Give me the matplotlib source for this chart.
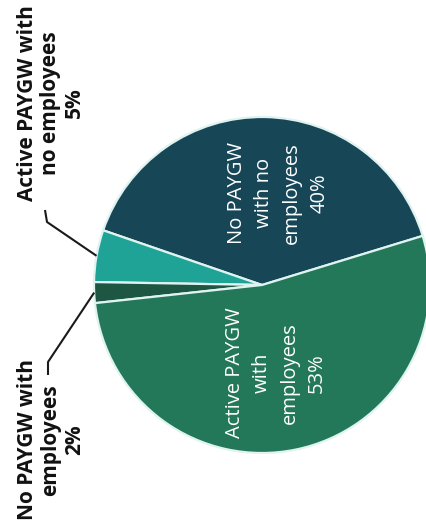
import numpy as np
import matplotlib
matplotlib.use("Agg")
import matplotlib.pyplot as plt

plt.rcParams['font.family'] = ['Open Sans', 'DejaVu Sans']

# PAYGW status of businesses
segments = ["No PAYGW\nwith no\nemployees", "Active PAYGW with\nno employees",
            "No PAYGW with\nemployees", "Active PAYGW\nwith\nemployees"]
shares = [40, 5, 2, 53]
colors = ["#174657", "#1fa397", "#1d5643", "#23785a"]

fig = plt.figure(figsize=(4.27, 5.28), dpi=100)
ax = fig.add_axes([0, 0, 1, 1])

cx, cy, r = 262, 243, 168
wedges, _ = ax.pie(shares, colors=colors, startangle=17, counterclock=True,
                   center=(cx, cy), radius=r,
                   wedgeprops=dict(edgecolor="#dff3f0", linewidth=1.6))

ax.set_xlim(0, 427)
ax.set_ylim(0, 528)
ax.set_aspect("equal")
ax.axis("off")

# labels inside the two big slices
inner = {0: (278, 335), 3: (276, 155)}
for i, (x, y) in inner.items():
    ax.text(x, y, f"{segments[i]}\n{shares[i]}%", rotation=90, color="white",
            fontsize=14.5, ha="center", va="center", linespacing=1.5,
            multialignment="center")

# small slices: bold labels outside with leader lines
outer = {1: ((51, 425), [(45, 318), (47, 306)]),
         2: ((51, 88), [(48, 153), (48, 166)])}
for i, ((x, y), hook) in outer.items():
    ax.text(x, y, f"{segments[i]}\n{shares[i]}%", rotation=90, color="#111111",
            fontsize=15, fontweight="bold", ha="center", va="center",
            linespacing=1.15, multialignment="center")
    w = wedges[i]
    mid = np.deg2rad((w.theta1 + w.theta2) / 2)
    px, py = cx + r * np.cos(mid), cy + r * np.sin(mid)
    xs = [p[0] for p in hook] + [px]
    ys = [p[1] for p in hook] + [py]
    ax.plot(xs, ys, color="#1a1a1a", lw=1.5, solid_capstyle="butt")

fig.savefig("out.png", dpi=100)
